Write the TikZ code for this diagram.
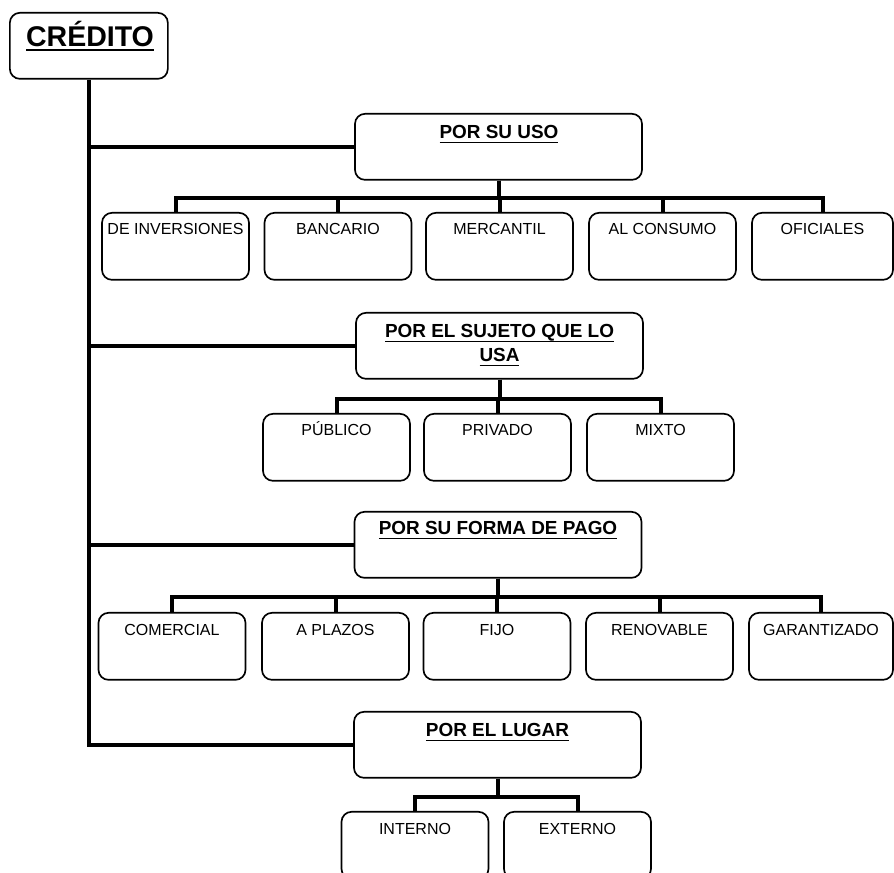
\documentclass[tikz,border=0pt]{standalone}
\usepackage{fontspec}
\setmainfont{Liberation Sans}
\newcommand{\ulx}[3]{\setbox0\hbox{#1}\rlap{\rule[-#2]{\wd0}{#3}}\box0}
\begin{document}
\begin{tikzpicture}[x=0.75pt,y=-0.75pt,
 box/.style={draw=black, line width=1.25pt, rounded corners=7.5pt, inner sep=0pt},
 hbox/.style={box, anchor=north, minimum width=215.25pt, minimum height=49.5pt},
 cbox/.style={box, anchor=north, minimum width=110.25pt, minimum height=50.25pt},
 htext/.style={anchor=base, inner sep=0pt, font=\fontsize{14.2pt}{18pt}\selectfont\bfseries},
 ctext/.style={anchor=base, inner sep=0pt, font=\fontsize{12pt}{14pt}\selectfont},
 conn/.style={line width=3pt, line join=miter, line cap=butt}]
\useasboundingbox (0,0) rectangle (894,873);
\clip (0,0) rectangle (894,873);

% root
\node[box, anchor=north west, minimum width=118.5pt, minimum height=49.5pt] (cred) at (9,12) {};
\node[anchor=base, inner sep=0pt, font=\fontsize{21.4pt}{24pt}\selectfont\bfseries] (credt) at (90,47) {\ulx{CRÉDITO}{3pt}{1.5pt}};

% headers
\node[hbox] (uso) at (498.5,113) {};
\node[htext] (usot) at (499,139) {\ulx{POR SU USO}{3pt}{1.1pt}};
\node[hbox] (sujeto) at (499.5,312) {};
\node[htext] (sujt1) at (499.5,338) {\ulx{POR EL SUJETO QUE LO}{3pt}{1.1pt}};
\node[htext] (sujt2) at (499.5,362) {\ulx{USA}{3pt}{1.1pt}};
\node[hbox] (forma) at (498,511) {};
\node[htext] (format) at (498,535) {\ulx{POR SU FORMA DE PAGO}{3pt}{1.1pt}};
\node[hbox] (lugar) at (497.5,711) {};
\node[htext] (lugart) at (497.5,737) {\ulx{POR EL LUGAR}{3pt}{1.1pt}};

% row 1
\node[cbox] (a1) at (175.5,212) {};
\node[cbox] (a2) at (338,212) {};
\node[cbox] (a3) at (499.5,212) {};
\node[cbox] (a4) at (662.5,212) {};
\node[cbox, minimum width=105.75pt] (a5) at (822.5,212) {};
\node[ctext] (a1t) at (175.5,235) {DE INVERSIONES};
\node[ctext] (a2t) at (338,235) {BANCARIO};
\node[ctext] (a3t) at (499.5,235) {MERCANTIL};
\node[ctext] (a4t) at (662.5,235) {AL CONSUMO};
\node[ctext] (a5t) at (822.5,235) {OFICIALES};

% row 2
\node[cbox] (b1) at (336.5,413) {};
\node[cbox] (b2) at (497.5,413) {};
\node[cbox] (b3) at (660.5,413) {};
\node[ctext] (b1t) at (336.5,436) {PÚBLICO};
\node[ctext] (b2t) at (497.5,436) {PRIVADO};
\node[ctext] (b3t) at (660.5,436) {MIXTO};

% row 3
\node[cbox] (c1) at (172,612) {};
\node[cbox] (c2) at (335.5,612) {};
\node[cbox] (c3) at (497,612) {};
\node[cbox] (c4) at (659.5,612) {};
\node[cbox, minimum width=108pt] (c5) at (821,612) {};
\node[ctext] (c1t) at (172,636) {COMERCIAL};
\node[ctext] (c2t) at (335.5,636) {A PLAZOS};
\node[ctext] (c3t) at (497,636) {FIJO};
\node[ctext] (c4t) at (659.5,636) {RENOVABLE};
\node[ctext] (c5t) at (821,636) {GARANTIZADO};

% row 4
\node[cbox] (d1) at (415,811) {};
\node[cbox] (d2) at (577.5,811) {};
\node[ctext] (d1t) at (415,835) {INTERNO};
\node[ctext] (d2t) at (577.5,835) {EXTERNO};

% trunk and branches
\draw[conn] (cred.south) -- (cred.south |- lugar.west) -- (lugar.west);
\foreach \h in {uso,sujeto,forma} {\draw[conn] (cred.south |- \h.west) -- (\h.west);}

% buses
\foreach \c in {a1,a2,a3,a4,a5} {\draw[conn] (uso.south) -- ++(0,17) -| (\c.north);}
\foreach \c in {b1,b2,b3} {\draw[conn] (sujeto.south) -- ++(0,19) -| (\c.north);}
\foreach \c in {c1,c2,c3,c4,c5} {\draw[conn] (forma.south) -- ++(0,18) -| (\c.north);}
\foreach \c in {d1,d2} {\draw[conn] (lugar.south) -- ++(0,18) -| (\c.north);}
\end{tikzpicture}
\end{document}
